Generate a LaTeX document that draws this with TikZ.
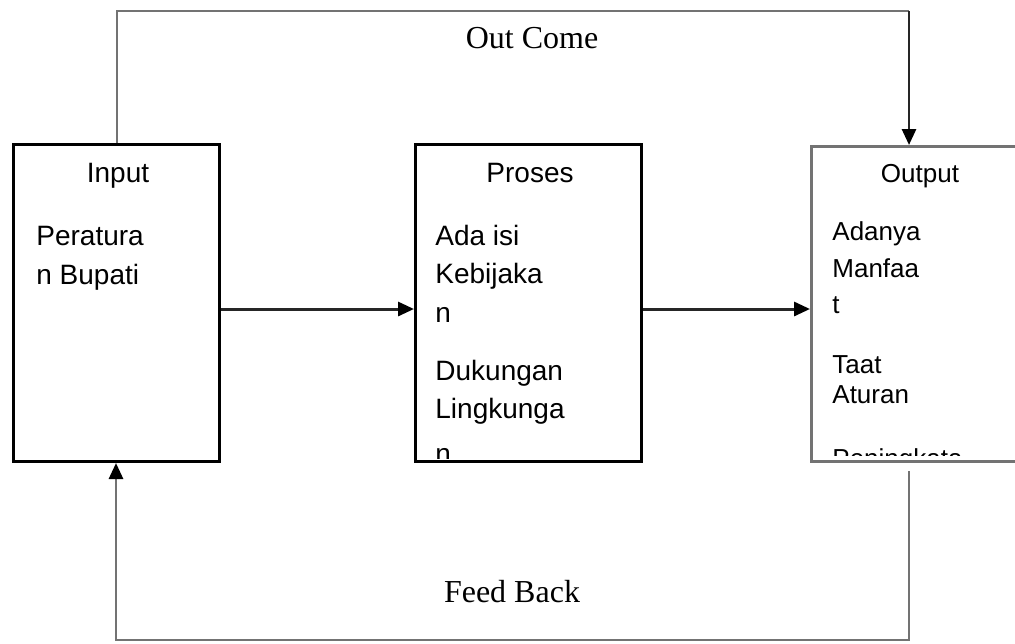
\documentclass[tikz,border=0pt]{standalone}
\usepackage{fontspec}
\setmainfont{Liberation Serif}
\setsansfont{Liberation Sans}
\usetikzlibrary{arrows.meta}
\definecolor{linegray}{gray}{0.45}
\definecolor{darkline}{gray}{0.15}
\tikzset{
  box/.style={draw, line width=1.5pt, rectangle, inner sep=0pt, anchor=north west},
  graybox/.style={box, draw=linegray},
  head/.style={font=\sffamily\fontsize{14}{16}\selectfont, anchor=base, inner sep=0pt},
  body/.style={font=\sffamily\fontsize{14}{16}\selectfont, anchor=base west, inner sep=0pt},
  smallbody/.style={font=\sffamily\fontsize{13}{15}\selectfont, anchor=base west, inner sep=0pt},
  label/.style={font=\rmfamily\fontsize{16}{18}\selectfont, anchor=base, inner sep=0pt},
  tip/.style={-{Triangle[length=8pt,width=7pt,color=black]}},
  conn/.style={line width=1.5pt, darkline, tip},
  loopline/.style={line width=1.4pt, linegray},
  looparrow/.style={loopline, tip}
}
\begin{document}
\begin{tikzpicture}[x=0.5pt,y=-0.5pt]
\useasboundingbox (0,0) rectangle (1015,643);
\clip (0,0) rectangle (1015,643);
% boxes
\node[box, minimum width=103pt, minimum height=158.5pt] (in) at (12,143) {};
\node[box, minimum width=113pt, minimum height=158.5pt] (pr) at (414,143) {};
\node[graybox, minimum width=115pt, minimum height=157.5pt] (out) at (810,145) {};
% input text
\node[head] (inh) at (118,182) {Input};
\node[body] (in1) at (36,245) {Peratura};
\node[body] (in2) at (36,284) {n Bupati};
% proses text
\node[head] (prh) at (530,182) {Proses};
\begin{scope}
\clip (416,145) rectangle (638,458);
\node[body] (pr1) at (435,245) {Ada isi};
\node[body] (pr2) at (435,283) {Kebijaka};
\node[body] (pr3) at (435,322) {n};
\node[body] (pr4) at (435,380) {Dukungan};
\node[body] (pr5) at (435,418) {Lingkunga};
\node[body] (pr6) at (435,463) {n};
\end{scope}
% output text
\node[head, font=\sffamily\fontsize{13}{15}\selectfont] (outh) at (920,182) {Output};
\begin{scope}
\clip (812,147) rectangle (1015,455);
\node[smallbody] (o1) at (832,240) {Adanya};
\node[smallbody] (o2) at (832,277) {Manfaa};
\node[smallbody] (o3) at (832,313) {t};
\node[smallbody] (o4) at (832,373) {Taat};
\node[smallbody] (o5) at (832,403) {Aturan};
\node[smallbody] (o6) at (832,467) {Peningkata};
\end{scope}
% labels
\node[label] (oc) at (532,48) {Out Come};
\node[label] (fb) at (512,602) {Feed Back};
% forward connectors
\draw[conn] (in.east |- 0,309) -- (pr.west |- 0,309);
\draw[conn] (pr.east |- 0,309) -- (out.west |- 0,309);
% outcome loop
\coordinate (octl) at (117,11);
\coordinate (octr) at (909,11);
\draw[loopline] (in.north -| octl) -- (octl) -- (octr);
\draw[looparrow, draw=darkline] (octr) -- (out.north -| octr);
% feedback loop
\coordinate (fbtr) at (909,471);
\coordinate (fbbr) at (909,640);
\coordinate (fbbl) at (116,640);
\draw[looparrow] (fbtr) -- (fbbr) -- (fbbl) -- (in.south -| fbbl);
\end{tikzpicture}
\end{document}
